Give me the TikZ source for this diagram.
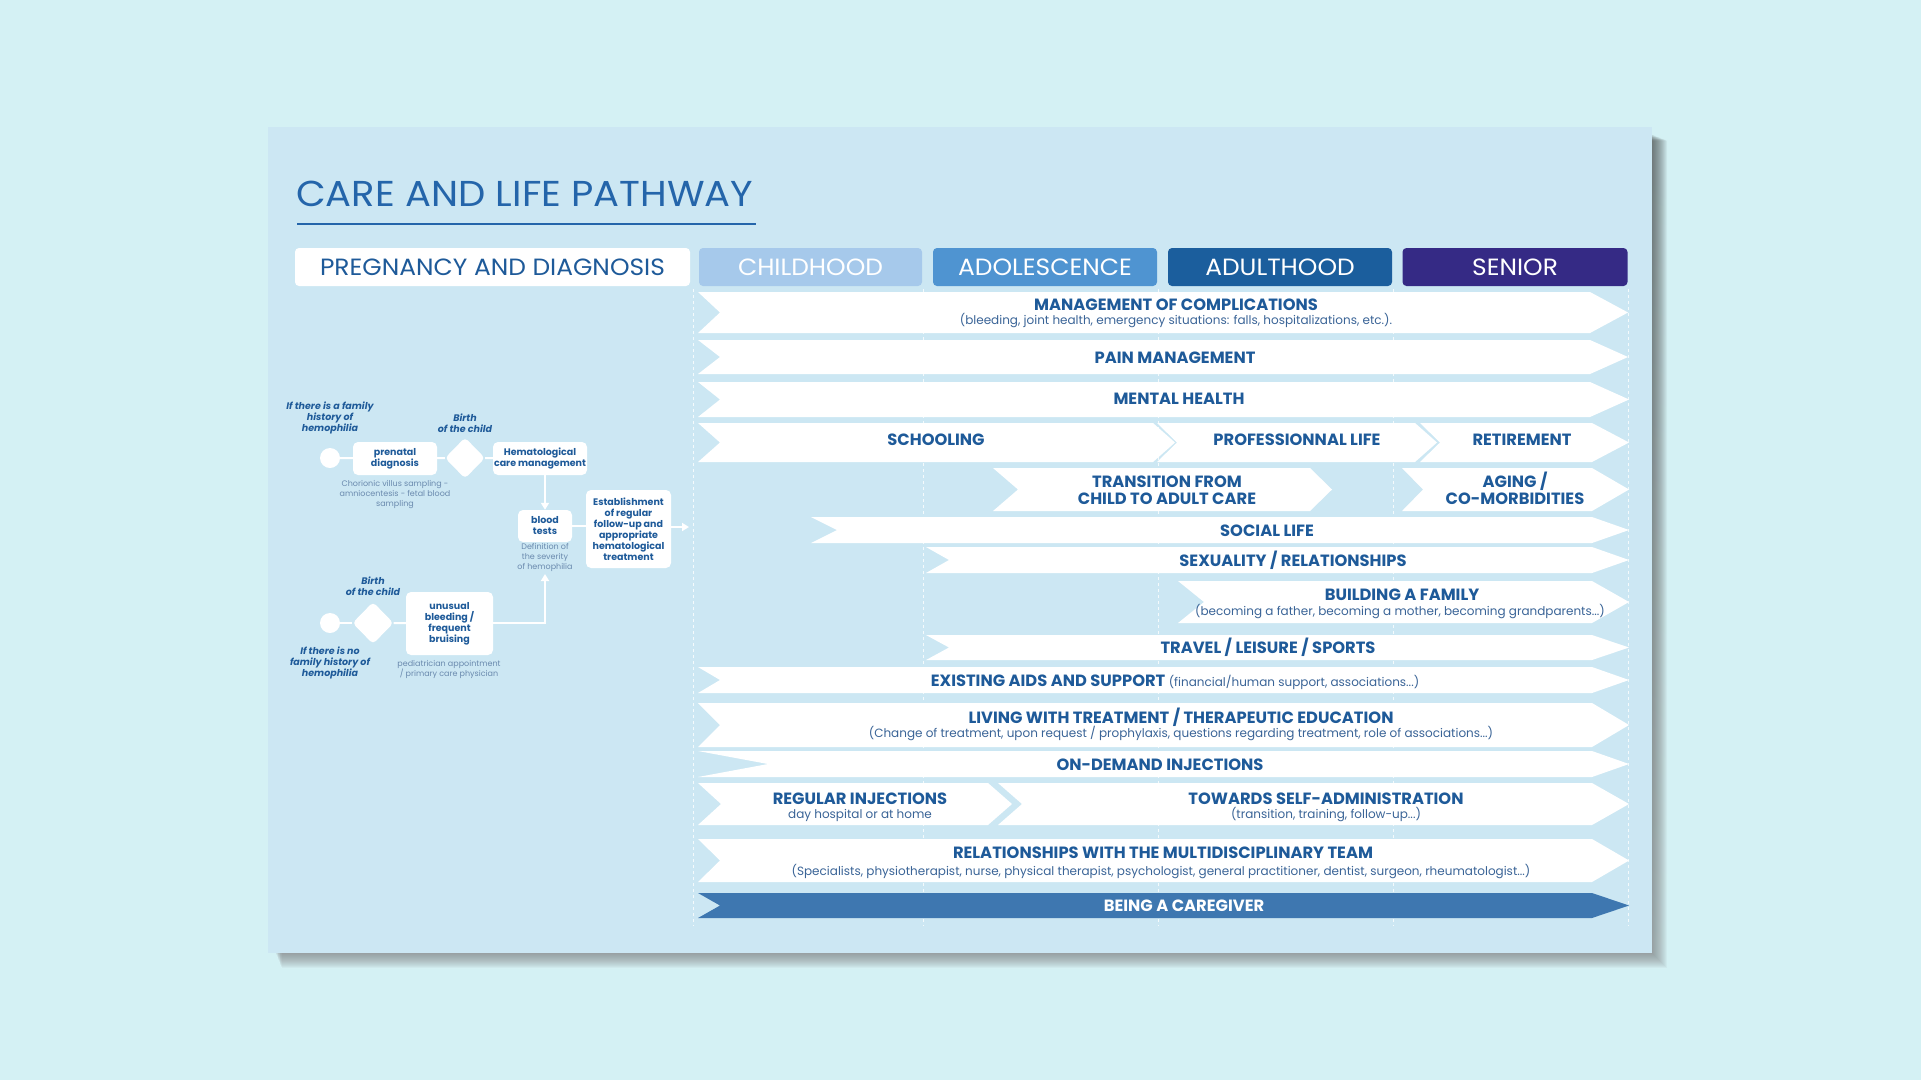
\documentclass[tikz,border=0pt]{standalone}
\usepackage{fontspec}
\setmainfont{Poppins}
\usetikzlibrary{shapes.geometric,arrows.meta}
\definecolor{outerbg}{HTML}{D4F1F4}
\definecolor{cardbg}{HTML}{CCE7F3}
\definecolor{tblue}{HTML}{2465AA}
\definecolor{dblue}{HTML}{1E5A99}
\definecolor{sblue}{HTML}{3A6497}
\definecolor{grayb}{HTML}{6A8AAE}
\definecolor{tabA}{HTML}{A6C9EB}
\definecolor{tabB}{HTML}{4F94D1}
\definecolor{tabC}{HTML}{1B5E9D}
\definecolor{tabD}{HTML}{352A85}
\definecolor{care}{HTML}{3E77B0}
\definecolor{shade}{HTML}{6F93AF}
\newcommand\myfs[2]{\fontsize{#1}{#2}\selectfont}
% x1, bodyend, tip, notch, ytop, ybot, fill
\newcommand\chev[7]{\fill[#7] (#1,#5) -- (#2,#5) -- ({#2+#3},{(#5+#6)/2}) -- (#2,#6) -- (#1,#6) -- ({#1+#4},{(#5+#6)/2}) -- cycle;}
\newcommand\wide[1]{\scalebox{1.06}[1]{#1}}
\begin{document}
\begin{tikzpicture}[x=1pt,y=-1pt,
  bartitle/.style={font=\bfseries\myfs{16.3}{18}, text=dblue, inner sep=0, text height=11.5pt, text depth=0pt},
  barsub/.style={font=\myfs{12}{14}, text=sblue, inner sep=0, text height=8.8pt, text depth=2.6pt},
  tab/.style={rounded corners=4pt, minimum height=38pt, inner sep=0, font=\myfs{23.5}{26}},
  dbox/.style={fill=white, rounded corners=5pt, inner sep=0, align=center, font=\bfseries\myfs{9.5}{11}, text=dblue},
  ital/.style={font=\bfseries\itshape\myfs{9.5}{11}, text=dblue, align=center, inner sep=0},
  dsub/.style={font=\myfs{8}{10}, text=grayb, align=center, inner sep=0},
  wline/.style={white, line width=2pt},
  warrow/.style={wline, -{Triangle[width=8pt,length=7pt]}},
  coldash/.style={white, opacity=0.8, dash pattern=on 3pt off 3pt, line width=0.7pt}
]
\useasboundingbox (0,0) rectangle (1921,1080);
\fill[outerbg] (0,0) rectangle (1921,1080);
% card shadow (soft) and card
\foreach \i in {0,...,19} {\fill[shade, opacity=0.03] ({274+\i*0.4},{133+\i*0.4}) rectangle ({1648+\i},{949+\i});}
\fill[cardbg] (268,127) rectangle (1652,953);
% title
\node[anchor=base west, inner sep=0, font=\myfs{36}{40}, text=tblue] (title) at (296,206) {\scalebox{1.07}[1]{CARE AND LIFE PATHWAY}};
\draw[tblue, line width=2pt] (297,224) -- (756,224);
% tabs
\node[tab, fill=white, text=dblue, minimum width=395pt] (tpreg) at (492.5,267) {\wide{PREGNANCY AND DIAGNOSIS}};
\node[tab, fill=tabA, text=white, minimum width=223pt] (tchild) at (810.5,267) {\wide{CHILDHOOD}};
\node[tab, fill=tabB, text=white, minimum width=224pt] (tado) at (1045,267) {\wide{ADOLESCENCE}};
\node[tab, fill=tabC, text=white, minimum width=224pt] (tadult) at (1280,267) {\wide{ADULTHOOD}};
\node[tab, fill=tabD, text=white, minimum width=225pt] (tsenior) at (1515,267) {\wide{SENIOR}};
% column dashed lines
\foreach \x in {693,923,1158,1393,1628} {\draw[coldash] (\x,289) -- (\x,926);}
% bars
\chev{698}{1590}{38}{22}{292}{333}{white}
\chev{698}{1590}{38}{22}{340}{374}{white}
\chev{698}{1590}{39}{22}{382}{417}{white}
\chev{698}{1153}{22}{22}{423}{462}{white}
\chev{1157}{1415}{22}{20}{423}{462}{white}
\chev{1420}{1592}{37}{20}{423}{462}{white}
\chev{993}{1310}{22}{25}{468}{511}{white}
\chev{1402}{1592}{37}{21}{468}{511}{white}
\chev{811}{1592}{37}{26}{517}{543}{white}
\chev{926}{1592}{37}{23}{547}{573}{white}
\chev{1178}{1592}{37}{26}{581}{623}{white}
\chev{926}{1592}{37}{23}{635}{660}{white}
\chev{698}{1592}{37}{22}{667}{693}{white}
\chev{698}{1592}{37}{22}{703}{747}{white}
\chev{698}{1592}{37}{70}{751}{777}{white}
\chev{698}{988}{24}{23}{783}{825}{white}
\chev{998}{1592}{37}{24}{783}{825}{white}
\chev{698}{1592}{37}{22}{839}{882}{white}
\chev{698}{1592}{37}{22}{893}{918}{care}
% bar texts
\node[bartitle] (b1) at (1176,305) {MANAGEMENT OF COMPLICATIONS};
\node[barsub] (b1s) at (1176,321) {(bleeding, joint health, emergency situations: falls, hospitalizations, etc.).};
\node[bartitle] (b2) at (1175,358) {PAIN MANAGEMENT};
\node[bartitle] (b3) at (1179,399) {MENTAL HEALTH};
\node[bartitle] (b4a) at (936,440) {SCHOOLING};
\node[bartitle] (b4b) at (1297,440) {PROFESSIONNAL LIFE};
\node[bartitle] (b4c) at (1522,440) {RETIREMENT};
\node[bartitle] (b5a1) at (1167,482) {TRANSITION FROM};
\node[bartitle] (b5a2) at (1167,499) {CHILD TO ADULT CARE};
\node[bartitle] (b5b1) at (1515,482) {AGING /};
\node[bartitle] (b5b2) at (1515,499) {CO-MORBIDITIES};
\node[bartitle] (b6) at (1267,531) {SOCIAL LIFE};
\node[bartitle] (b7) at (1293,561) {SEXUALITY / RELATIONSHIPS};
\node[bartitle] (b8) at (1402,595) {BUILDING A FAMILY};
\node[barsub] (b8s) at (1400,612) {(becoming a father, becoming a mother, becoming grandparents...)};
\node[bartitle] (b9) at (1268,648) {TRAVEL / LEISURE / SPORTS};
\node[bartitle] (b10) at (1175,681) {EXISTING AIDS AND SUPPORT {\mdseries\myfs{12}{14}\color{sblue}(financial/human support, associations...)}};
\node[bartitle] (b11) at (1181,718) {LIVING WITH TREATMENT / THERAPEUTIC EDUCATION};
\node[barsub] (b11s) at (1181,734) {(Change of treatment, upon request / prophylaxis, questions regarding treatment, role of associations...)};
\node[bartitle] (b12) at (1160,765) {ON-DEMAND INJECTIONS};
\node[bartitle] (b13a) at (860,799) {REGULAR INJECTIONS};
\node[barsub] (b13as) at (860,815) {day hospital or at home};
\node[bartitle] (b13b) at (1326,799) {TOWARDS SELF-ADMINISTRATION};
\node[barsub] (b13bs) at (1326,815) {(transition, training, follow-up...)};
\node[bartitle] (b14) at (1163,853) {RELATIONSHIPS WITH THE MULTIDISCIPLINARY TEAM};
\node[barsub] (b14s) at (1161,872) {(Specialists, physiotherapist, nurse, physical therapist, psychologist, general practitioner, dentist, surgeon, rheumatologist...)};
\node[bartitle, text=white] (b15) at (1184,906) {BEING A CAREGIVER};
% left diagram
\node[circle, fill=white, minimum size=20pt, inner sep=0] (c1) at (330,458) {};
\node[dbox, minimum width=84pt, minimum height=33pt] (pren) at (395,458.5) {prenatal\\diagnosis};
\node[diamond, fill=white, rounded corners=4pt, minimum width=40pt, minimum height=41pt, inner sep=0] (d1) at (465,458) {};
\node[dbox, minimum width=94pt, minimum height=33pt] (hema) at (540,458.5) {Hematological\\care management};
\node[dbox, minimum width=54pt, minimum height=32pt] (blood) at (545,526) {blood\\tests};
\node[dbox, minimum width=85pt, minimum height=78pt] (est) at (628.5,529) {Establishment\\of regular\\follow-up and\\appropriate\\hematological\\treatment};
\node[circle, fill=white, minimum size=20pt, inner sep=0] (c2) at (330,623) {};
\node[diamond, fill=white, rounded corners=4pt, minimum width=41pt, minimum height=42pt, inner sep=0] (d2) at (373,623) {};
\node[dbox, minimum width=87pt, minimum height=63pt] (unus) at (449.5,623.5) {unusual\\bleeding /\\frequent\\bruising};
\coordinate (estout) at (689,527);
\coordinate (upend) at (545,574);
\coordinate (bend) at (545,623);
% connectors
\draw[wline] (c1) -- (pren);
\draw[wline] (pren) -- (d1);
\draw[wline] (d1) -- (hema);
\draw[warrow] (hema.south -| blood.north) -- (blood.north);
\draw[wline] (blood.east) -- (blood.east -| est.west);
\draw[warrow] (est.east |- estout) -- (estout);
\draw[wline] (c2) -- (d2);
\draw[wline] (d2) -- (unus);
\draw[warrow] (unus.east |- bend) -- (bend) -- (upend);
% left labels
\node[ital] (lf1) at (330,418) {If there is a family\\history of\\hemophilia};
\node[ital] (lb1) at (465,423.5) {Birth\\of the child};
\node[dsub] (ls1) at (395,495) {Chorionic villus sampling -\\amniocentesis - fetal blood\\sampling};
\node[dsub] (ls2) at (545,557) {Definition of\\the severity\\of hemophilia};
\node[ital] (lb2) at (373,586.5) {Birth\\of the child};
\node[ital] (lf2) at (330,663) {If there is no\\family history of\\hemophilia};
\node[dsub] (ls3) at (449,669) {pediatrician appointment\\/ primary care physician};
\end{tikzpicture}
\end{document}
